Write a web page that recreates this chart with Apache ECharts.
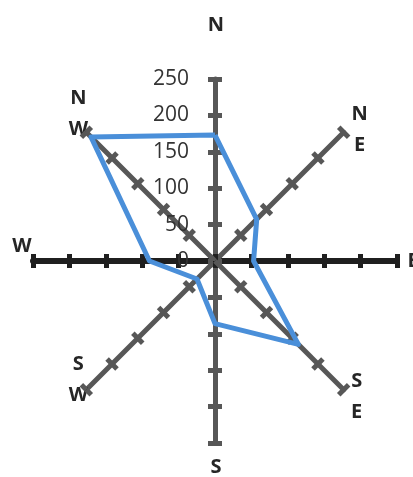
<!DOCTYPE html>
<html>
<head>
<meta charset="utf-8">
<script src="https://cdn.jsdelivr.net/npm/echarts@6/dist/echarts.min.js"></script>
<style>
  html, body { margin: 0; padding: 0; background: #ffffff; }
  #chart { width: 413px; height: 477px; }
</style>
</head>
<body>
<div id="chart"></div>
<script>
// Wind direction rose: compass points and recorded values
const directions = ['N', 'NE', 'E', 'SE', 'S', 'SW', 'W', 'NW'];
const directionLabels = ['N', 'N\nE', 'E', 'S\nE', 'S', 'S\nW', 'W', 'N\nW'];
const values = [173, 81, 53, 162, 86, 35, 90, 241];
const axisMax = 250;
const axisStep = 50;

// Radar lays indicators out counter-clockwise from the top
const ccwOrder = [0, 7, 6, 5, 4, 3, 2, 1];

const CENTER = [215, 261];
const RADIUS = 182;
const GREY = '#575757';
const DARK = '#1f1f1f';
const NAME_LINE = 31;

// per-direction axis colour and name offset [dx, dy] from the axis end
const axisStyle = {
  N:  { color: GREY, width: 5, shift: [1, -54] },
  NE: { color: GREY, width: 5, shift: [16, -3] },
  E:  { color: DARK, width: 6, shift: [16, 0] },
  SE: { color: GREY, width: 5, shift: [13, 7] },
  S:  { color: GREY, width: 5, shift: [1, 24] },
  SW: { color: GREY, width: 5, shift: [-8, -10] },
  W:  { color: DARK, width: 6, shift: [-11, -15] },
  NW: { color: GREY, width: 5, shift: [-8, -19] }
};

// Rich-text styles that nudge each name away from its axis end:
// padding on one side moves the text by half that amount within its line.
const nameRich = {};
directions.forEach(function (d) {
  const dx = axisStyle[d].shift[0];
  const dy = axisStyle[d].shift[1];
  const pad = [0, 0, 0, 0];
  if (dx > 0) pad[3] = 2 * dx; else pad[1] = -2 * dx;
  if (dy > 0) pad[0] = 2 * dy; else pad[2] = -2 * dy;
  nameRich[d] = {
    padding: pad,
    lineHeight: NAME_LINE,
    color: '#262626',
    fontFamily: 'Open Sans',
    fontWeight: 'bold',
    fontSize: 20
  };
});

function formatName(label) {
  const d = directions[directionLabels.indexOf(label)];
  return label.split('\n').map(function (txt) {
    return '{' + d + '|' + txt + '}';
  }).join('\n');
}

function indicators(withLabels) {
  return ccwOrder.map(function (i) {
    const d = directions[i];
    const s = axisStyle[d];
    return {
      name: directionLabels[i],
      min: 0,
      max: axisMax,
      axisLine: { lineStyle: { color: s.color, width: s.width } },
      axisLabel: { show: withLabels && d === 'N' }
    };
  });
}

const labelFont = { color: '#333333', fontFamily: 'Open Sans', fontSize: 21 };

const baseRadar = {
  center: CENTER,
  radius: RADIUS,
  startAngle: 90,
  splitNumber: axisMax / axisStep,
  shape: 'polygon',
  nameGap: 0,
  splitLine: { show: false },
  splitArea: { show: false }
};

const chart = echarts.init(document.getElementById('chart'), null, { renderer: 'canvas' });
chart.setOption({
  animation: false,
  backgroundColor: '#ffffff',
  radar: [
    Object.assign({}, baseRadar, {
      indicator: indicators(true),
      axisName: {
        align: 'center',
        verticalAlign: 'middle',
        color: '#262626',
        fontFamily: 'Open Sans',
        fontWeight: 'bold',
        fontSize: 20,
        lineHeight: NAME_LINE,
        formatter: formatName,
        rich: nameRich
      },
      axisLine: { show: true },
      axisTick: { show: true, inside: false, length: 7, lineStyle: { width: 5 } },
      axisLabel: Object.assign({ show: false, margin: 26 }, labelFont)
    }),
    Object.assign({}, baseRadar, {
      indicator: indicators(false),
      axisName: { show: false },
      axisLine: { show: false },
      axisTick: { show: true, inside: false, length: -7, lineStyle: { width: 5 } },
      axisLabel: { show: false }
    })
  ],
  series: [
    {
      type: 'radar',
      radarIndex: 0,
      symbol: 'none',
      lineStyle: { color: '#4a8fd9', width: 5 },
      data: [{ value: ccwOrder.map(function (i) { return values[i]; }), name: 'Wind' }]
    }
  ]
});
</script>
</body>
</html>
